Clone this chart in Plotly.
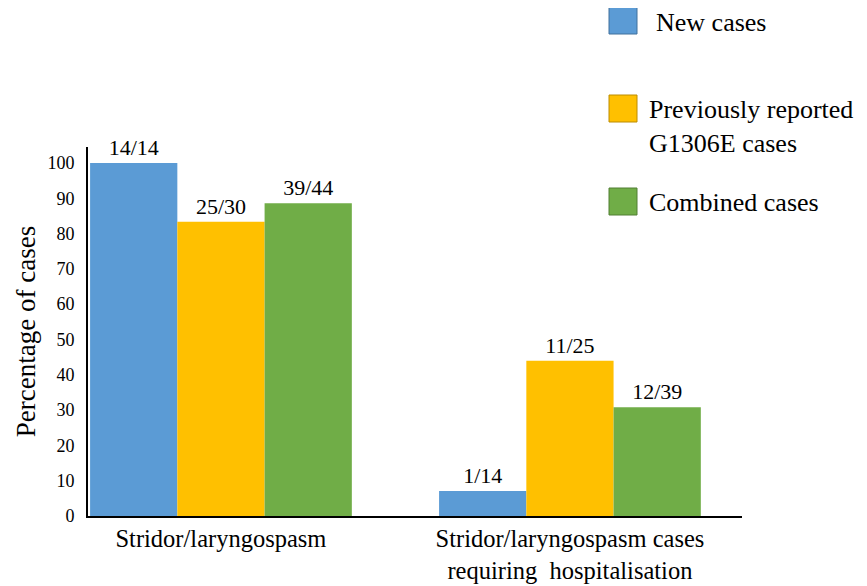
import plotly.graph_objects as go

categories = ["Stridor/laryngospasm", "Stridor/laryngospasm cases<br>requiring  hospitalisation"]
series_names = ["New cases", "Previously reported<br>G1306E cases", "Combined cases"]
new_cases = [100.0, 7.1]
previous_cases = [83.3, 44.0]
combined_cases = [88.6, 30.8]
new_labels = ["14/14", "1/14"]
previous_labels = ["25/30", "11/25"]
combined_labels = ["39/44", "12/39"]
y_ticks = [0, 10, 20, 30, 40, 50, 60, 70, 80, 90, 100]

colors = ["#5B9BD5", "#FFC000", "#70AD47"]
borders = ["#41719C", "#BC8C00", "#507E32"]
FONT = "Liberation Serif"

# page has an 8px body margin; size the figure so it fits the window
OFF = 8
W, H = 867 - OFF, 586 - OFF
L, T = 88 - OFF, 147 - OFF
R = W - (742 - OFF)
B = H - (516 - OFF)
pw, ph = W - L - R, H - T - B

fig = go.Figure()
for vals, labs, col, name in zip([new_cases, previous_cases, combined_cases],
                                 [new_labels, previous_labels, combined_labels],
                                 colors, series_names):
    fig.add_trace(go.Bar(
        x=categories, y=vals, name=name, text=labs,
        textposition="outside", cliponaxis=False,
        textfont=dict(family=FONT, size=22, color="black"),
        marker=dict(color=col, line=dict(width=0)),
        showlegend=False,
    ))

def px2paper(px, py):
    # px, py in page pixels
    return (px - OFF - L) / pw, (H - B - (py - OFF)) / ph

# custom legend
legend_items = [(7, 655, 23), (95, 648, 127), (188, 648, 202)]
for (top, tx_px, ty), col, bcol, name in zip(legend_items, colors, borders, series_names):
    x0, y1 = px2paper(609, top)
    x1, y0 = px2paper(637, top + 27)
    fig.add_shape(type="rect", xref="paper", yref="paper", x0=x0, x1=x1, y0=y0, y1=y1,
                  fillcolor=col, line=dict(color=bcol, width=1))
    tx, tyy = px2paper(tx_px, ty)
    fig.add_annotation(xref="paper", yref="paper", x=tx, y=tyy, text=name, showarrow=False,
                       xanchor="left", yanchor="middle", align="left", borderpad=0,
                       font=dict(family=FONT, size=26, color="black"))

fig.update_layout(
    width=W, height=H,
    margin=dict(l=L, r=R, t=T, b=B, autoexpand=False),
    paper_bgcolor="white", plot_bgcolor="white",
    barmode="group", bargap=0.25, bargroupgap=0,
    font=dict(family=FONT, color="black"),
    xaxis=dict(range=[-0.381, 1.493], showline=True, linecolor="black", linewidth=2,
               showgrid=False, ticks="", automargin=False,
               tickfont=dict(family=FONT, size=24.5, color="black")),
    yaxis=dict(range=[0, 104.5], tickvals=y_ticks, showline=True, linecolor="black", linewidth=2,
               showgrid=False, zeroline=False, ticks="", ticklabelstandoff=8, automargin=False,
               tickfont=dict(family=FONT, size=18, color="black"),
               title=dict(text="Percentage of cases", standoff=4,
                          font=dict(family=FONT, size=27, color="black"))),
)

fig.write_html("out.html")
